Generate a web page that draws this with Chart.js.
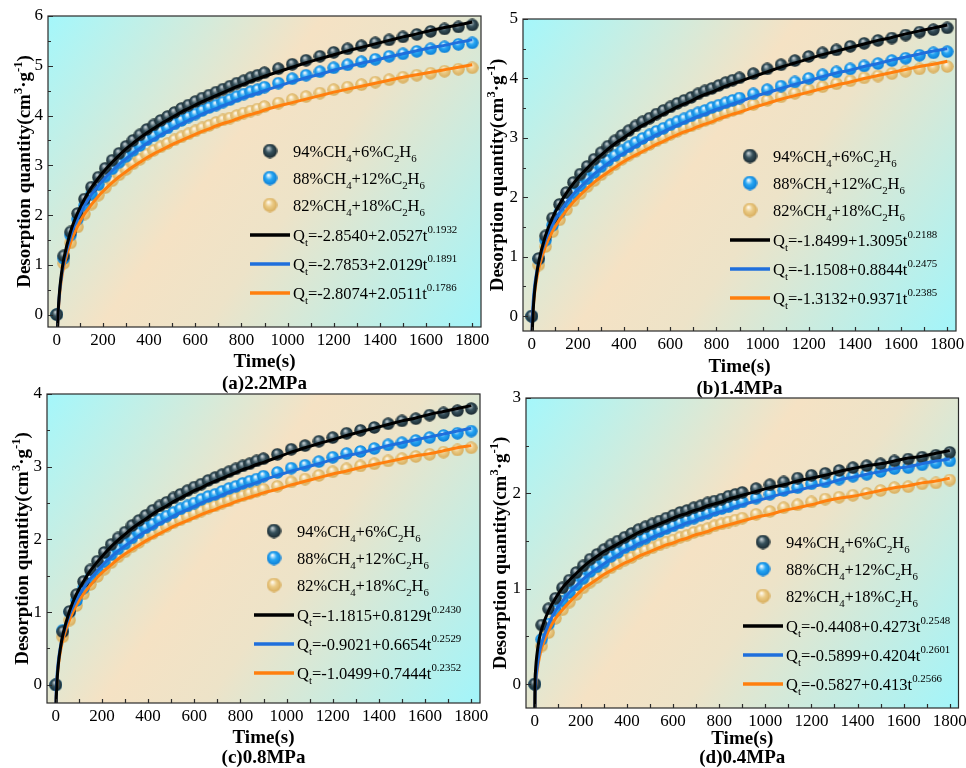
<!DOCTYPE html>
<html lang="en">
<head>
<meta charset="UTF-8">
<title>Desorption quantity vs time</title>
<script src="https://cdn.jsdelivr.net/npm/chart.js"></script>
<style>
html,body{margin:0;padding:0;background:#fff}
.wrap{position:relative;width:966px;height:768px;overflow:hidden}
.wrap canvas{position:absolute;left:0;top:0}
</style>
</head>
<body>
<div class="wrap">
<canvas id="pa" width="966" height="768"></canvas>
<canvas id="pb" width="966" height="768"></canvas>
<canvas id="pc" width="966" height="768"></canvas>
<canvas id="pd" width="966" height="768"></canvas>
</div>
<script>
// measured points: every 30 s up to 900 s, then every 60 s
const sampleTimes = [0,30,60,90,120,150,180,210,240,270,300,330,360,390,420,450,480,510,540,570,600,630,660,690,720,750,780,810,840,870,900,960,1020,1080,1140,1200,1260,1320,1380,1440,1500,1560,1620,1680,1740,1800];
// fitted curve read at these times
const fitTimes = [0,1,3,6,12,20,30,60,90,120,150,180,210,240,270,300,330,360,390,420,450,480,510,540,570,600,630,660,690,720,750,780,810,840,870,900,960,1020,1080,1140,1200,1260,1320,1380,1440,1500,1560,1620,1680,1740,1800];
const seriesLabels = ['94%CH_4+6%C_2H_6','88%CH_4+12%C_2H_6','82%CH_4+18%C_2H_6'];
const xTicks = [0,200,400,600,800,1000,1200,1400,1600,1800];

// (a) 2.2 MPa
const a94 = [0,1.18,1.66,2.03,2.32,2.56,2.76,2.94,3.10,3.24,3.38,3.50,3.61,3.72,3.81,3.90,3.98,4.06,4.14,4.21,4.28,4.35,4.41,4.47,4.53,4.59,4.65,4.70,4.76,4.81,4.86,4.94,5.03,5.11,5.19,5.27,5.34,5.40,5.46,5.52,5.58,5.63,5.69,5.74,5.78,5.82];
const a88 = [0,1.13,1.60,1.92,2.19,2.42,2.61,2.78,2.93,3.06,3.18,3.30,3.40,3.51,3.59,3.68,3.75,3.83,3.90,3.97,4.03,4.10,4.16,4.21,4.27,4.32,4.38,4.43,4.48,4.52,4.57,4.65,4.74,4.81,4.88,4.96,5.02,5.08,5.13,5.19,5.24,5.29,5.34,5.38,5.43,5.46];
const a82 = [0,1.03,1.44,1.76,2.02,2.22,2.40,2.55,2.69,2.81,2.92,3.03,3.12,3.22,3.30,3.37,3.44,3.51,3.57,3.63,3.69,3.75,3.80,3.86,3.91,3.95,4.00,4.05,4.09,4.13,4.18,4.25,4.32,4.38,4.45,4.52,4.57,4.62,4.67,4.72,4.77,4.81,4.85,4.89,4.93,4.96];
const aFit94 = [-2.85,-0.80,-0.32,0.05,0.46,0.81,1.11,1.67,2.04,2.32,2.55,2.74,2.91,3.06,3.20,3.33,3.44,3.55,3.65,3.74,3.83,3.91,3.99,4.07,4.14,4.21,4.28,4.34,4.40,4.46,4.52,4.58,4.63,4.69,4.74,4.79,4.88,4.97,5.06,5.14,5.22,5.30,5.37,5.44,5.51,5.58,5.64,5.71,5.77,5.82,5.88];
const aFit88 = [-2.79,-0.77,-0.31,0.04,0.44,0.76,1.04,1.58,1.93,2.19,2.41,2.59,2.75,2.89,3.02,3.13,3.24,3.34,3.44,3.52,3.61,3.68,3.76,3.83,3.90,3.96,4.03,4.09,4.14,4.20,4.25,4.31,4.36,4.41,4.45,4.50,4.59,4.68,4.76,4.83,4.91,4.98,5.05,5.11,5.18,5.24,5.30,5.36,5.41,5.47,5.52];
const aFit82 = [-2.81,-0.76,-0.31,0.02,0.39,0.70,0.96,1.45,1.77,2.02,2.21,2.38,2.52,2.65,2.77,2.87,2.97,3.06,3.15,3.23,3.30,3.37,3.44,3.50,3.56,3.62,3.68,3.73,3.79,3.84,3.88,3.93,3.98,4.02,4.06,4.11,4.19,4.26,4.33,4.40,4.47,4.53,4.59,4.65,4.71,4.77,4.82,4.87,4.92,4.97,5.02];
const aEq = ['Q_t=-2.8540+2.0527t^{0.1932}','Q_t=-2.7853+2.0129t^{0.1891}','Q_t=-2.8074+2.0511t^{0.1786}'];

// (b) 1.4 MPa
const b94 = [0,0.97,1.35,1.65,1.88,2.08,2.25,2.39,2.52,2.64,2.75,2.86,2.95,3.04,3.12,3.20,3.27,3.33,3.40,3.46,3.52,3.58,3.63,3.68,3.74,3.79,3.83,3.88,3.93,3.97,4.01,4.08,4.16,4.23,4.30,4.37,4.43,4.48,4.54,4.59,4.64,4.68,4.73,4.78,4.82,4.85];
const b88 = [0,0.96,1.28,1.53,1.74,1.92,2.07,2.19,2.31,2.42,2.52,2.62,2.70,2.78,2.85,2.92,2.99,3.05,3.11,3.16,3.22,3.27,3.32,3.37,3.42,3.46,3.51,3.55,3.59,3.63,3.67,3.74,3.81,3.87,3.94,4.00,4.06,4.11,4.16,4.21,4.25,4.30,4.34,4.39,4.43,4.45];
const b82 = [0,0.86,1.17,1.42,1.62,1.79,1.94,2.06,2.18,2.28,2.38,2.47,2.55,2.64,2.71,2.77,2.83,2.89,2.95,3.00,3.06,3.11,3.16,3.20,3.25,3.29,3.33,3.38,3.42,3.46,3.49,3.56,3.63,3.69,3.75,3.81,3.86,3.91,3.96,4.01,4.04,4.08,4.12,4.16,4.19,4.20];
const bFit94 = [-1.85,-0.54,-0.19,0.09,0.41,0.67,0.91,1.36,1.66,1.88,2.07,2.23,2.37,2.49,2.61,2.71,2.81,2.90,2.98,3.06,3.14,3.21,3.27,3.34,3.40,3.46,3.52,3.57,3.62,3.68,3.73,3.77,3.82,3.87,3.91,3.95,4.03,4.11,4.19,4.26,4.33,4.40,4.46,4.52,4.58,4.64,4.69,4.75,4.80,4.85,4.90];
const bFit88 = [-1.15,-0.27,0.01,0.23,0.49,0.71,0.90,1.29,1.54,1.74,1.91,2.05,2.17,2.28,2.39,2.48,2.57,2.65,2.72,2.79,2.86,2.93,2.99,3.05,3.10,3.16,3.21,3.26,3.31,3.36,3.40,3.45,3.49,3.53,3.57,3.61,3.69,3.76,3.83,3.90,3.96,4.03,4.09,4.14,4.20,4.25,4.31,4.36,4.41,4.46,4.50];
const bFit82 = [-1.31,-0.38,-0.10,0.12,0.38,0.60,0.80,1.18,1.43,1.62,1.78,1.92,2.04,2.15,2.25,2.34,2.42,2.50,2.58,2.65,2.71,2.77,2.83,2.89,2.94,3.00,3.05,3.10,3.14,3.19,3.23,3.27,3.32,3.36,3.40,3.43,3.51,3.58,3.65,3.71,3.77,3.83,3.89,3.94,4.00,4.05,4.10,4.15,4.20,4.24,4.29];
const bEq = ['Q_t=-1.8499+1.3095t^{0.2188}','Q_t=-1.1508+0.8844t^{0.2475}','Q_t=-1.3132+0.9371t^{0.2385}'];

// (c) 0.8 MPa
const c94 = [0,0.73,1.01,1.24,1.42,1.58,1.70,1.82,1.93,2.02,2.10,2.19,2.26,2.33,2.40,2.46,2.51,2.57,2.62,2.67,2.72,2.76,2.81,2.85,2.89,2.93,2.97,3.01,3.04,3.08,3.11,3.17,3.24,3.29,3.35,3.40,3.46,3.50,3.54,3.59,3.63,3.66,3.71,3.74,3.77,3.80];
const c88 = [0,0.75,1.00,1.16,1.33,1.47,1.58,1.69,1.79,1.87,1.94,2.02,2.09,2.16,2.21,2.27,2.32,2.37,2.42,2.46,2.50,2.55,2.59,2.62,2.66,2.70,2.73,2.77,2.80,2.83,2.87,2.92,2.98,3.02,3.07,3.13,3.18,3.21,3.25,3.30,3.33,3.36,3.40,3.43,3.46,3.49];
const c82 = [0,0.66,0.89,1.09,1.25,1.38,1.49,1.59,1.68,1.76,1.83,1.90,1.96,2.03,2.08,2.13,2.18,2.23,2.27,2.31,2.35,2.39,2.43,2.46,2.50,2.53,2.57,2.60,2.63,2.66,2.69,2.73,2.79,2.83,2.88,2.93,2.97,3.01,3.04,3.08,3.11,3.14,3.17,3.20,3.23,3.26];
const cFit94 = [-1.18,-0.37,-0.12,0.08,0.31,0.50,0.68,1.02,1.25,1.42,1.57,1.69,1.80,1.90,1.99,2.07,2.15,2.22,2.28,2.35,2.41,2.46,2.52,2.57,2.62,2.67,2.71,2.76,2.80,2.84,2.88,2.92,2.96,2.99,3.03,3.06,3.13,3.20,3.26,3.32,3.37,3.43,3.48,3.53,3.58,3.63,3.67,3.72,3.76,3.80,3.84];
const cFit88 = [-0.90,-0.24,-0.02,0.15,0.35,0.52,0.67,0.97,1.17,1.33,1.46,1.57,1.67,1.76,1.84,1.91,1.98,2.05,2.11,2.16,2.22,2.27,2.32,2.37,2.41,2.45,2.50,2.54,2.57,2.61,2.65,2.68,2.72,2.75,2.78,2.82,2.88,2.94,2.99,3.04,3.10,3.15,3.19,3.24,3.29,3.33,3.37,3.41,3.45,3.49,3.53];
const cFit82 = [-1.05,-0.31,-0.09,0.09,0.29,0.46,0.61,0.90,1.10,1.25,1.37,1.48,1.57,1.65,1.73,1.80,1.86,1.92,1.98,2.03,2.08,2.13,2.18,2.22,2.26,2.30,2.34,2.38,2.41,2.45,2.48,2.52,2.55,2.58,2.61,2.64,2.69,2.75,2.80,2.85,2.90,2.94,2.99,3.03,3.07,3.11,3.15,3.18,3.22,3.26,3.29];
const cEq = ['Q_t=-1.1815+0.8129t^{0.2430}','Q_t=-0.9021+0.6654t^{0.2529}','Q_t=-1.0499+0.7444t^{0.2352}'];

// (d) 0.4 MPa
const d94 = [0,0.62,0.79,0.90,1.01,1.09,1.17,1.24,1.31,1.36,1.41,1.46,1.50,1.54,1.58,1.62,1.65,1.68,1.71,1.74,1.77,1.80,1.82,1.85,1.87,1.90,1.92,1.94,1.97,1.99,2.01,2.05,2.09,2.12,2.16,2.19,2.21,2.24,2.27,2.29,2.31,2.34,2.36,2.38,2.40,2.43];
const d88 = [0,0.47,0.63,0.77,0.87,0.96,1.04,1.11,1.18,1.23,1.28,1.34,1.38,1.43,1.46,1.50,1.53,1.57,1.60,1.63,1.66,1.69,1.72,1.74,1.77,1.79,1.82,1.84,1.86,1.89,1.91,1.95,1.99,2.03,2.06,2.10,2.12,2.15,2.18,2.20,2.23,2.26,2.27,2.30,2.32,2.34];
const d82 = [0,0.40,0.54,0.69,0.78,0.86,0.94,1.01,1.07,1.12,1.17,1.22,1.26,1.30,1.33,1.37,1.40,1.43,1.46,1.49,1.51,1.54,1.56,1.59,1.61,1.63,1.66,1.68,1.70,1.72,1.74,1.78,1.81,1.85,1.88,1.91,1.94,1.96,1.98,2.00,2.03,2.06,2.07,2.10,2.11,2.14];
const dFit94 = [-0.44,-0.01,0.13,0.23,0.36,0.48,0.58,0.77,0.90,1.01,1.09,1.16,1.23,1.29,1.34,1.39,1.43,1.47,1.51,1.55,1.59,1.62,1.65,1.68,1.71,1.74,1.77,1.79,1.82,1.84,1.87,1.89,1.91,1.94,1.96,1.98,2.02,2.06,2.09,2.13,2.16,2.19,2.23,2.26,2.29,2.31,2.34,2.37,2.39,2.42,2.45];
const dFit88 = [-0.59,-0.17,-0.03,0.08,0.21,0.33,0.43,0.63,0.77,0.87,0.96,1.03,1.10,1.16,1.21,1.26,1.31,1.35,1.40,1.43,1.47,1.50,1.54,1.57,1.60,1.63,1.66,1.69,1.71,1.74,1.76,1.79,1.81,1.83,1.86,1.88,1.92,1.96,2.00,2.03,2.07,2.10,2.14,2.17,2.20,2.23,2.26,2.28,2.31,2.34,2.36];
const dFit82 = [-0.58,-0.18,-0.05,0.05,0.17,0.28,0.38,0.56,0.69,0.78,0.86,0.93,1.00,1.05,1.10,1.15,1.19,1.23,1.27,1.30,1.34,1.37,1.40,1.43,1.46,1.48,1.51,1.53,1.56,1.58,1.60,1.63,1.65,1.67,1.69,1.71,1.75,1.78,1.82,1.85,1.88,1.92,1.95,1.97,2.00,2.03,2.06,2.08,2.11,2.13,2.16];
const dEq = ['Q_t=-0.4408+0.4273t^{0.2548}','Q_t=-0.5899+0.4204t^{0.2601}','Q_t=-0.5827+0.413t^{0.2566}'];

const SERIF = '"Liberation Serif", "Times New Roman", serif';
const lineColors = ['#000000','#1f6fdc','#ff7f0e'];

function sphere(d, hi, mid, edge){
  const c=document.createElement('canvas'); c.width=c.height=d;
  const g=c.getContext('2d'); const r=d/2;
  const gr=g.createRadialGradient(r*0.78,r*0.6,r*0.05,r,r,r);
  gr.addColorStop(0,hi); gr.addColorStop(0.45,mid); gr.addColorStop(1,edge);
  g.fillStyle=gr; g.beginPath(); g.arc(r,r,r-0.3,0,Math.PI*2); g.fill();
  return c;
}
function ballSet(d){
  return [sphere(d,'#c8d2d6','#36515c','#18272d'),sphere(d,'#ffffff','#27a6f3','#0a7cd4'),sphere(d,'#fffaf0','#ebcb86','#d6ab5a')];
}
const balls = ballSet(13);
const legendBalls = ballSet(15);

// "_x" subscript one char, "^{...}" superscript
function parseRich(s){
  const out=[]; let i=0, buf='';
  const flush=()=>{if(buf){out.push({t:buf,k:0});buf='';}};
  while(i<s.length){
    const ch=s[i];
    if(ch==='_'){flush();out.push({t:s[i+1],k:-1});i+=2;}
    else if(ch==='^'){flush();const j=s.indexOf('}',i);out.push({t:s.slice(i+2,j),k:1});i=j+1;}
    else{buf+=ch;i++;}
  }
  flush(); return out;
}
function drawRich(ctx,s,x,y,size,weight,align){
  const parts=parseRich(s), small=size*0.66;
  const font=sz=>weight+' '+sz+'px '+SERIF;
  let w=0;
  for(const p of parts){ctx.font=font(p.k?small:size);w+=ctx.measureText(p.t).width;}
  let cx=align==='center'?x-w/2:x;
  ctx.textAlign='left'; ctx.textBaseline='alphabetic'; ctx.fillStyle='#000';
  const base=y+size*0.34;
  for(const p of parts){
    ctx.font=font(p.k?small:size);
    const dy=p.k===-1?size*0.3:p.k===1?-size*0.45:0;
    ctx.fillText(p.t,cx,base+dy);
    cx+=ctx.measureText(p.t).width;
  }
}

const panelDecor = {
  id:'panelDecor',
  beforeDatasetsDraw(chart,args,o){
    const {ctx,chartArea:a}=chart;
    const g=ctx.createLinearGradient(a.left,a.top,a.right,a.bottom);
    g.addColorStop(0,'#a4f7fb'); g.addColorStop(0.42,'#f5e2c4'); g.addColorStop(0.58,'#ede3c8'); g.addColorStop(1,'#a2f5fa');
    ctx.save(); ctx.fillStyle=g; ctx.fillRect(a.left,a.top,a.right-a.left,a.bottom-a.top); ctx.restore();
  },
  afterDraw(chart,args,o){
    const {ctx,chartArea:a,scales:{x,y}}=chart;
    ctx.save();
    ctx.strokeStyle='#2a2a2a'; ctx.lineWidth=1.2;
    ctx.strokeRect(a.left,a.top,a.right-a.left,a.bottom-a.top);
    ctx.beginPath();
    for(let t=0;t<=1800;t+=100){const px=Math.round(x.getPixelForValue(t))+0.5;ctx.moveTo(px,a.bottom);ctx.lineTo(px,a.bottom-4);}
    for(let v=0;v<=o.yMax;v+=0.5){const py=Math.round(y.getPixelForValue(v))+0.5;ctx.moveTo(a.left,py);ctx.lineTo(a.left+(v%1===0?5:3),py);}
    ctx.stroke();
    ctx.fillStyle='#000'; ctx.font='17px '+SERIF;
    ctx.textAlign='center'; ctx.textBaseline='middle';
    for(const t of xTicks) ctx.fillText(String(t),x.getPixelForValue(t),a.bottom+14);
    ctx.textAlign='right';
    for(let v=0;v<=o.yMax;v++) ctx.fillText(String(v),a.left-5,y.getPixelForValue(v));
    // axis titles
    const mid=(a.left+a.right)/2;
    drawRich(ctx,'Time(s)',mid,o.xTitleY,19,'bold','center');
    drawRich(ctx,o.caption,mid,o.capY,19,'bold','center');
    ctx.save();
    ctx.translate(o.yTitleX,(a.top+a.bottom)/2); ctx.rotate(-Math.PI/2);
    drawRich(ctx,'Desorption quantity(cm^{3}·g^{-1})',0,0,19,'bold','center');
    ctx.restore();
    // legend
    const lx=a.left+o.leg[0], ly=a.top+o.leg[1];
    const rows=[0,27,54,84,113,142];
    for(let i=0;i<3;i++){
      const b=legendBalls[i];
      ctx.drawImage(b,lx-b.width/2,ly+rows[i]-b.height/2);
      drawRich(ctx,seriesLabels[i],lx+23,ly+rows[i],16.5,'normal','left');
    }
    for(let i=0;i<3;i++){
      const ry=ly+rows[i+3];
      ctx.strokeStyle=lineColors[i]; ctx.lineWidth=3.5;
      ctx.beginPath(); ctx.moveTo(lx-20,ry); ctx.lineTo(lx+20,ry); ctx.stroke();
      drawRich(ctx,o.eqs[i],lx+23,ry,16.5,'normal','left');
    }
    ctx.restore();
  }
};

function pts(ys){return sampleTimes.map((t,i)=>({x:t,y:ys[i]}));}
function fitPts(ys){return fitTimes.map((t,i)=>({x:t,y:ys[i]}));}

const panels = [
  {id:'pa',caption:'(a)2.2MPa',area:[48,16,481,327],yMax:6,meas:[a94,a88,a82],fits:[aFit94,aFit88,aFit82],eqs:aEq,leg:[222,135],xTitleY:361,capY:383,yTitleX:24},
  {id:'pb',caption:'(b)1.4MPa',area:[523,19,956,331],yMax:5,meas:[b94,b88,b82],fits:[bFit94,bFit88,bFit82],eqs:bEq,leg:[227,137],xTitleY:366,capY:388,yTitleX:497},
  {id:'pc',caption:'(c)0.8MPa',area:[47,394,480,703],yMax:4,meas:[c94,c88,c82],fits:[cFit94,cFit88,cFit82],eqs:cEq,leg:[227,137],xTitleY:737,capY:757,yTitleX:22},
  {id:'pd',caption:'(d)0.4MPa',area:[526,398,960,708],yMax:3,meas:[d94,d88,d82],fits:[dFit94,dFit88,dFit82],eqs:dEq,leg:[237,144],xTitleY:738,capY:757,yTitleX:500}
];

for(const p of panels){
  const [L,T,R,B]=p.area;
  const datasets=[];
  p.fits.forEach((f,i)=>datasets.push({data:fitPts(f),showLine:true,borderColor:lineColors[i],borderWidth:3,pointRadius:0,cubicInterpolationMode:'monotone',fill:false,order:0}));
  p.meas.forEach((m,i)=>datasets.push({data:pts(m),showLine:false,pointStyle:balls[i],pointRadius:6.5,order:i+1}));
  new Chart(document.getElementById(p.id),{
    type:'scatter',
    data:{datasets},
    options:{
      responsive:false,animation:false,devicePixelRatio:1,
      layout:{padding:{left:L,top:T,right:966-R,bottom:768-B}},
      scales:{
        x:{type:'linear',min:-38,max:1838,display:false},
        y:{type:'linear',min:-0.25,max:p.yMax,display:false}
      },
      plugins:{legend:{display:false},tooltip:{enabled:false},
        panelDecor:{yMax:p.yMax,caption:p.caption,eqs:p.eqs,leg:p.leg,xTitleY:p.xTitleY,capY:p.capY,yTitleX:p.yTitleX}}
    },
    plugins:[panelDecor]
  });
}
</script>
</body>
</html>
